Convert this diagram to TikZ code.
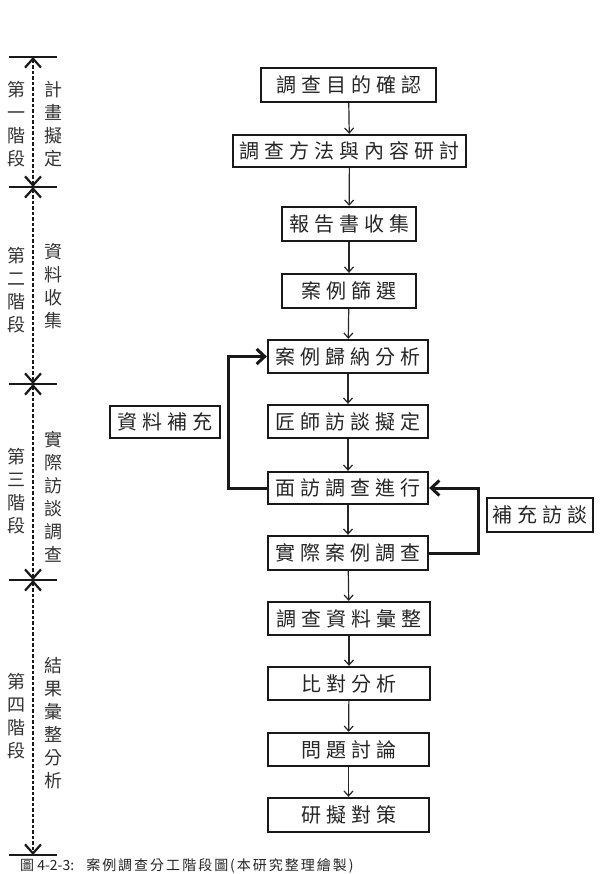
\documentclass[tikz,border=0pt]{standalone}
\usepackage{fontspec}
\newfontfamily\cjk{Noto Sans CJK TC}
\usetikzlibrary{arrows.meta}
\newlength\lsgap
\setlength\lsgap{5pt}
\newcommand\ls[1]{\lsA#1\relax}
\def\lsA#1{#1\futurelet\lsnext\lsB}
\def\lsB{\ifx\lsnext\relax\expandafter\lsEnd\else\hspace{\lsgap}\expandafter\lsA\fi}
\def\lsEnd\relax{}
\begin{document}
\begin{tikzpicture}[x=1pt,y=-1pt,
  box/.style={draw=black!90, line width=2.3pt, minimum width=#1, minimum height=33pt,
    inner sep=0pt, font=\cjk\fontsize{20}{20}\selectfont, text=black!85},
  box/.default=160pt,
  flow/.style={-{Straight Barb[length=5pt,width=9pt]}, line width=1.2pt, draw=black!85},
  loopline/.style={-{Straight Barb[length=8pt,width=15pt]}, line width=3pt, draw=black!90},
  tickline/.style={line width=2.6pt, draw=black!90},
  stagearrow/.style={{Straight Barb[length=9pt,width=16pt]}-{Straight Barb[length=9pt,width=16pt]},
    line width=2.2pt, dash pattern=on 3.5pt off 2pt, draw=black!90},
  vlab/.style={align=center, inner sep=0pt, font=\cjk\fontsize{18}{23}\selectfont, text=black!80}
]
\useasboundingbox (0,0) rectangle (602,874);
\fill[white] (0,0) rectangle (602,874);

% main flow boxes
\node[box=175pt, minimum height=34pt] (b1) at (348.5,85) {\ls{調查目的確認}};
\node[box=233pt, minimum height=32pt] (b2) at (349.5,151) {\ls{調查方法與內容研討}};
\node[box=134pt, minimum height=34pt] (b3) at (349,224) {\ls{報告書收集}};
\node[box=134pt, minimum height=34pt] (b4) at (349,291) {\ls{案例篩選}};
\node[box=160pt] (b5) at (348,356.5) {\ls{案例歸納分析}};
\node[box=160pt] (b6) at (348,421.5) {\ls{匠師訪談擬定}};
\node[box=160pt, minimum height=32pt] (b7) at (348,488) {\ls{面訪調查進行}};
\node[box=160pt, minimum height=34pt] (b8) at (348,553) {\ls{實際案例調查}};
\node[box=162pt] (b9) at (349,618.5) {\ls{調查資料彙整}};
\node[box=162pt] (b10) at (349,683.5) {\ls{比對分析}};
\node[box=161pt] (b11) at (348.5,749.5) {\ls{問題討論}};
\node[box=161pt, minimum height=34pt] (b12) at (348.5,815) {\ls{研擬對策}};

% side labels
\node[box=110pt, minimum height=32pt] (s1) at (165,422) {\ls{資料補充}};
\node[box=106pt, minimum height=34pt] (s2) at (540,515) {\ls{補充訪談}};

% vertical arrows
\foreach \a/\b in {b1/b2,b2/b3,b3/b4,b4/b5,b5/b6,b6/b7,b7/b8,b8/b9,b9/b10,b10/b11,b11/b12}
  \draw[flow] (\a) -- (\b);

% feedback loops
\coordinate (lx) at (228,0);
\coordinate (rx) at (478,0);
\draw[loopline] (b7.west) -- (b7.west -| lx) |- (b5.west);
\draw[loopline] (b8.east) -- (b8.east -| rx) |- (b7.east);

% stage timeline
\coordinate (k1) at (33,57);
\coordinate (k2) at (33,187);
\coordinate (k3) at (33,384);
\coordinate (k4) at (33,580);
\coordinate (k5) at (33,855);
\foreach \k in {k1,k2,k3,k4,k5}
  \draw[tickline] ([xshift=-24pt]\k) -- ([xshift=24pt]\k);
\draw[stagearrow] (k1) -- (k2);
\draw[stagearrow] (k2) -- (k3);
\draw[stagearrow] (k3) -- (k4);
\draw[stagearrow] (k4) -- (k5);

% stage labels
\node[vlab] (p1) at (17,124) {第\\一\\階\\段};
\node[vlab] (q1) at (53,124) {計\\畫\\擬\\定};
\node[vlab] (p2) at (17,290) {第\\二\\階\\段};
\node[vlab] (q2) at (53,286) {資\\料\\收\\集};
\node[vlab] (p3) at (17,491) {第\\三\\階\\段};
\node[vlab] (q3) at (53,497) {實\\際\\訪\\談\\調\\查};
\node[vlab] (p4) at (17,716) {第\\四\\階\\段};
\node[vlab] (q4) at (53,723) {結\\果\\彙\\整\\分\\析};

% caption
\node[anchor=west, inner sep=0pt, font=\cjk\fontsize{14}{14}\selectfont, text=black!85] (cap) at (20,866)
  {圖 4-2-3:\hspace{12pt}{\setlength\lsgap{2pt}\ls{案例調查分工階段圖(本研究整理繪製)}}};
\end{tikzpicture}
\end{document}
